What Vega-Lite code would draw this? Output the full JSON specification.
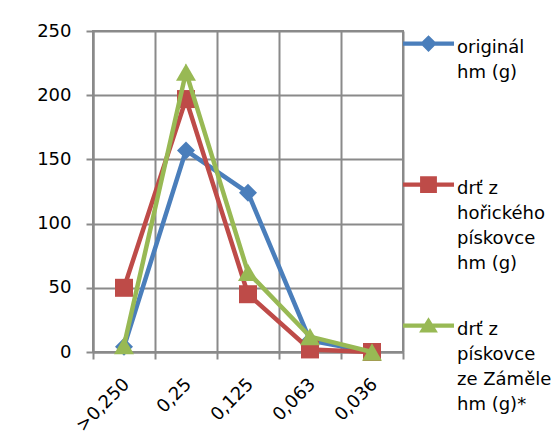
{
  "$schema": "https://vega.github.io/schema/vega-lite/v6.json",
  "width": 310,
  "height": 321,
  "autosize": "none",
  "padding": {"left": 93, "top": 31, "right": 157, "bottom": 93},
  "background": "white",
  "config": {
    "font": "DejaVu Sans",
    "view": {"stroke": "#8a8a8a", "strokeWidth": 2},
    "style": {"guide-label": {"lineHeight": 25}}
  },
  "data": {
    "values": [
      {"series": "originál hm (g)", "size": ">0,250", "value": 4},
      {"series": "originál hm (g)", "size": "0,25", "value": 157},
      {"series": "originál hm (g)", "size": "0,125", "value": 124},
      {"series": "originál hm (g)", "size": "0,063", "value": 9},
      {"series": "originál hm (g)", "size": "0,036", "value": 0},
      {"series": "drť z hořického pískovce hm (g)", "size": ">0,250", "value": 50},
      {"series": "drť z hořického pískovce hm (g)", "size": "0,25", "value": 197},
      {"series": "drť z hořického pískovce hm (g)", "size": "0,125", "value": 45},
      {"series": "drť z hořického pískovce hm (g)", "size": "0,063", "value": 2},
      {"series": "drť z hořického pískovce hm (g)", "size": "0,036", "value": 0},
      {"series": "drť z pískovce ze Záměle hm (g)*", "size": ">0,250", "value": 5},
      {"series": "drť z pískovce ze Záměle hm (g)*", "size": "0,25", "value": 218},
      {"series": "drť z pískovce ze Záměle hm (g)*", "size": "0,125", "value": 62},
      {"series": "drť z pískovce ze Záměle hm (g)*", "size": "0,063", "value": 12},
      {"series": "drť z pískovce ze Záměle hm (g)*", "size": "0,036", "value": 0}
    ]
  },
  "encoding": {
    "x": {
      "field": "size",
      "type": "nominal",
      "sort": [">0,250", "0,25", "0,125", "0,063", "0,036"],
      "scale": {"type": "band", "paddingInner": 0, "paddingOuter": 0},
      "axis": {
        "title": null,
        "tickBand": "extent",
        "grid": true,
        "gridColor": "#8a8a8a",
        "gridWidth": 2,
        "tickColor": "#8a8a8a",
        "tickWidth": 2,
        "tickSize": 7,
        "domainColor": "#8a8a8a",
        "domainWidth": 2,
        "labelAngle": -45,
        "labelFontSize": 18,
        "labelColor": "black",
        "labelPadding": 16,
        "labelOffset": -4
      }
    },
    "y": {
      "field": "value",
      "type": "quantitative",
      "scale": {"domain": [0, 250], "nice": false},
      "axis": {
        "title": null,
        "values": [0, 50, 100, 150, 200, 250],
        "grid": true,
        "gridColor": "#8a8a8a",
        "gridWidth": 2,
        "tickColor": "#8a8a8a",
        "tickWidth": 2,
        "tickSize": 7,
        "domainColor": "#8a8a8a",
        "domainWidth": 2,
        "labelFontSize": 18,
        "labelColor": "black",
        "labelPadding": 15
      }
    }
  },
  "layer": [
    {
      "mark": {"type": "point", "filled": true, "size": 0, "opacity": 1},
      "encoding": {
        "color": {
          "field": "series",
          "type": "nominal",
          "scale": {
            "domain": ["originál hm (g)", "drť z hořického pískovce hm (g)", "drť z pískovce ze Záměle hm (g)*"],
            "range": ["#4a7ebb", "#be4b48", "#98b954"]
          },
          "legend": {
            "orient": "none",
            "legendX": 310,
            "legendY": -18,
            "title": null,
            "padding": 0,
            "symbolSize": 2601,
            "symbolOpacity": 1,
            "symbolStrokeWidth": 0,
            "labelFontSize": 18,
            "labelColor": "black",
            "labelBaseline": "top",
            "labelOffset": 3,
            "labelLimit": 200,
            "rowPadding": 22,
            "labelExpr": "datum.label == 'originál hm (g)' ? ['originál','hm (g)','',''] : datum.label == 'drť z hořického pískovce hm (g)' ? ['drť z','hořického','pískovce','hm (g)'] : ['drť z','pískovce','ze Záměle','hm (g)*']"
          }
        },
        "shape": {
          "field": "series",
          "type": "nominal",
          "scale": {
            "domain": ["originál hm (g)", "drť z hořického pískovce hm (g)", "drť z pískovce ze Záměle hm (g)*"],
            "range": [
              "M-1,0.12H1V0.28H-1ZM0,-0.13L0.33,0.2L0,0.53L-0.33,0.2Z",
              "M-1,0.12H1V0.28H-1ZM-0.33,-0.13H0.33V0.53H-0.33Z",
              "M-1,0.12H1V0.28H-1ZM0,-0.13L0.37,0.47L-0.37,0.47Z"
            ]
          },
          "legend": {
            "orient": "none",
            "legendX": 310,
            "legendY": -18,
            "title": null
          }
        }
      }
    },
    {
      "transform": [{"filter": "datum.series == 'originál hm (g)'"}],
      "mark": {"type": "line", "strokeWidth": 4.5, "color": "#4a7ebb"}
    },
    {
      "transform": [{"filter": "datum.series == 'originál hm (g)'"}],
      "mark": {"type": "point", "shape": "diamond", "filled": true, "size": 324, "opacity": 1, "color": "#4a7ebb"}
    },
    {
      "transform": [{"filter": "datum.series == 'drť z hořického pískovce hm (g)'"}],
      "mark": {"type": "line", "strokeWidth": 4.5, "color": "#be4b48"}
    },
    {
      "transform": [{"filter": "datum.series == 'drť z hořického pískovce hm (g)'"}],
      "mark": {"type": "point", "shape": "square", "filled": true, "size": 324, "opacity": 1, "color": "#be4b48"}
    },
    {
      "transform": [{"filter": "datum.series == 'drť z pískovce ze Záměle hm (g)*'"}],
      "mark": {"type": "line", "strokeWidth": 4.5, "color": "#98b954"}
    },
    {
      "transform": [{"filter": "datum.series == 'drť z pískovce ze Záměle hm (g)*'"}],
      "mark": {"type": "point", "shape": "triangle-up", "filled": true, "size": 400, "opacity": 1, "color": "#98b954"}
    }
  ]
}
